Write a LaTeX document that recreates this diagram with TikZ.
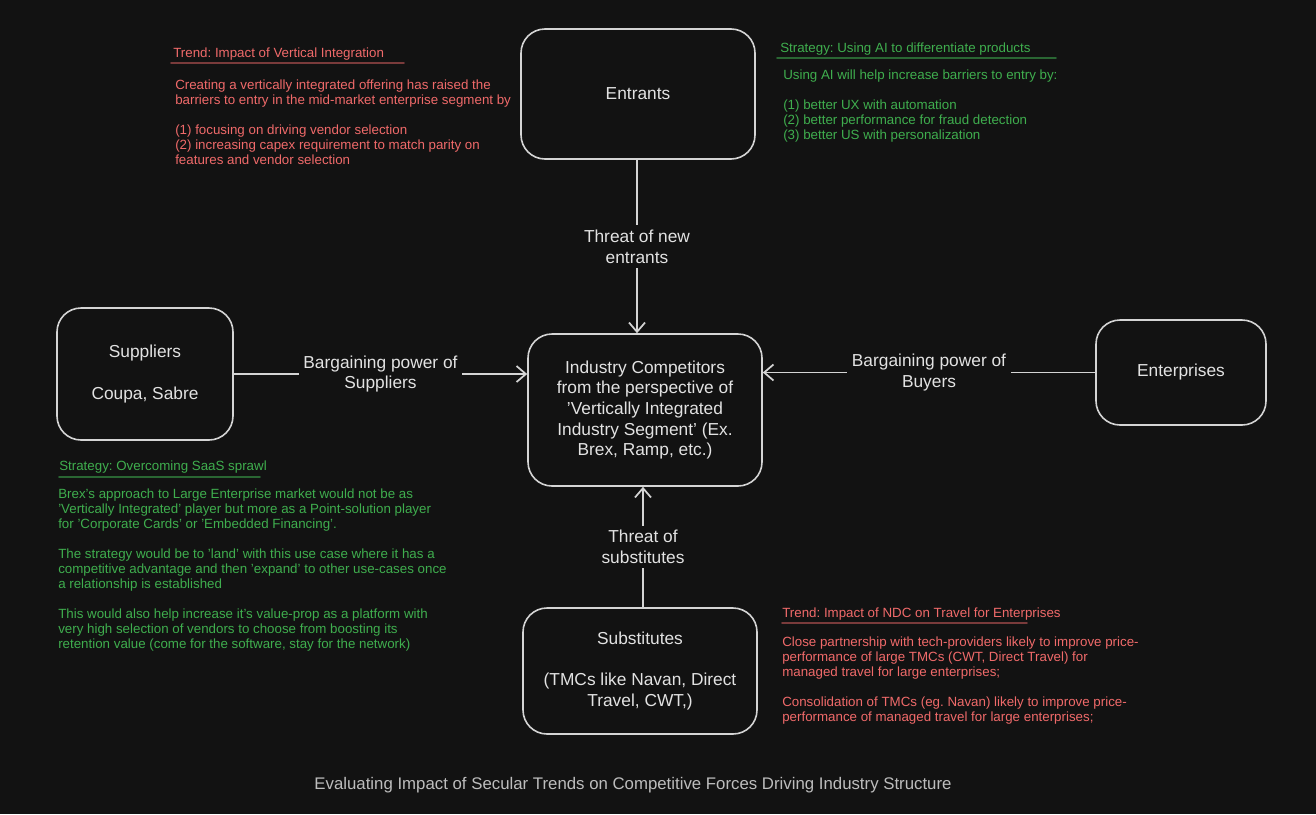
\documentclass[tikz,border=0pt]{standalone}
\usepackage{fontspec}
\setmainfont{Liberation Sans}
\usetikzlibrary{arrows.meta}
\frenchspacing

\definecolor{canvas}{HTML}{121212}
\definecolor{chalk}{HTML}{D4D4D4}
\definecolor{chalktext}{HTML}{E2E2E2}
\definecolor{trendred}{HTML}{F06A6A}
\definecolor{trendrule}{HTML}{7A3B3B}
\definecolor{stratgreen}{HTML}{3FAE4E}
\definecolor{stratrule}{HTML}{2A6633}
\definecolor{captiongrey}{HTML}{BDBDBD}

\begin{document}
\begin{tikzpicture}[x=0.75pt,y=-0.75pt,
    box/.style={draw=chalk,line width=1.2pt,rounded corners=18pt,fill=canvas,text=chalktext,
        align=center,font=\fontsize{13}{15.5}\selectfont},
    force/.style={draw=chalk,line width=1.3pt,line cap=round,-{Straight Barb[length=7pt,width=12pt,line width=1.3pt]}},
    lbl/.style={fill=canvas,text=chalktext,align=center,inner sep=3.5pt,font=\fontsize{13}{15.5}\selectfont},
    heading/.style={anchor=base west,inner sep=0pt,font=\fontsize{10}{11.25}\selectfont},
    note/.style={anchor=north west,inner sep=0pt,align=left,font=\fontsize{10}{11.25}\selectfont},
    rule/.style={line width=1.2pt,line cap=round}]
    \fill[canvas] (0,0) rectangle (1316,814);
    \useasboundingbox (0,0) rectangle (1316,814);

    % the five forces
    \node[box,minimum width=175.5pt,minimum height=97.5pt] (entrants) at (638,94) {Entrants};
    \node[box,minimum width=175.5pt,minimum height=114pt] (core) at (645,410)
        {Industry Competitors\\from the perspective of\\'Vertically Integrated\\Industry Segment' (Ex.\\Brex, Ramp, etc.)};
    \node[box,minimum width=132pt,minimum height=99pt] (suppliers) at (145,374) {Suppliers\\[15.5pt]Coupa, Sabre};
    \node[box,minimum width=127.5pt,minimum height=78.75pt] (enterprises) at (1181,372.5) {Enterprises};
    \node[box,minimum width=175.5pt,minimum height=94.5pt] (substitutes) at (640,671)
        {Substitutes\\[15.5pt](TMCs like Navan, Direct\\Travel, CWT,)};

    \draw[force] (entrants.south -| 637,0) -- node[lbl] (newentrants) {Threat of new\\entrants} (core.north -| 637,0);
    \draw[force] (suppliers.east) -- node[lbl] (bpsuppliers) {Bargaining power of\\Suppliers} (suppliers.east -| core.west);
    \draw[force] (enterprises.west) -- node[lbl] (bpbuyers) {Bargaining power of\\Buyers} (enterprises.west -| core.east);
    \draw[force] (substitutes.north -| 643,0) -- node[lbl] (threatsubst) {Threat of\\substitutes} (core.south -| 643,0);

    % trend: vertical integration
    \node[heading,text=trendred] (trendvi) at (173,57) {Trend: Impact of Vertical Integration};
    \draw[rule,trendrule] (171,63) -- (404,63);
    \node[note,text=trendred] (trendvinote) at (175,80)
        {Creating a vertically integrated offering has raised the\\
        barriers to entry in the mid-market enterprise segment by\\[11.25pt]
        (1) focusing on driving vendor selection\\
        (2) increasing capex requirement to match parity on\\
        features and vendor selection};

    % strategy: AI
    \node[heading,text=stratgreen] (stratai) at (780,52) {Strategy: Using AI to differentiate products};
    \draw[rule,stratrule] (777,58) -- (1056,58);
    \node[note,text=stratgreen] (stratainote) at (783,70)
        {Using AI will help increase barriers to entry by:\\[11.25pt]
        (1) better UX with automation\\
        (2) better performance for fraud detection\\
        (3) better US with personalization};

    % strategy: SaaS sprawl
    \node[heading,text=stratgreen] (stratsaas) at (59,470) {Strategy: Overcoming SaaS sprawl};
    \draw[rule,stratrule] (59,477) -- (260,477);
    \node[note,text=stratgreen] (stratsaasnote) at (58,489)
        {Brex's approach to Large Enterprise market would not be as\\
        'Vertically Integrated' player but more as a Point-solution player\\
        for 'Corporate Cards' or 'Embedded Financing'.\\[11.25pt]
        The strategy would be to 'land' with this use case where it has a\\
        competitive advantage and then 'expand' to other use-cases once\\
        a relationship is established\\[11.25pt]
        This would also help increase it's value-prop as a platform with\\
        very high selection of vendors to choose from boosting its\\
        retention value (come for the software, stay for the network)};

    % trend: NDC
    \node[heading,text=trendred] (trendndc) at (782,617) {Trend: Impact of NDC on Travel for Enterprises};
    \draw[rule,trendrule] (782,623) -- (1027,623);
    \node[note,text=trendred] (trendndcnote) at (782,637)
        {Close partnership with tech-providers likely to improve price-\\
        performance of large TMCs (CWT, Direct Travel) for\\
        managed travel for large enterprises;\\[11.25pt]
        Consolidation of TMCs (eg. Navan) likely to improve price-\\
        performance of managed travel for large enterprises;};

    \node[anchor=base,text=captiongrey,font=\fontsize{12.6}{15}\selectfont] (caption) at (633,789)
        {Evaluating Impact of Secular Trends on Competitive Forces Driving Industry Structure};
\end{tikzpicture}
\end{document}
